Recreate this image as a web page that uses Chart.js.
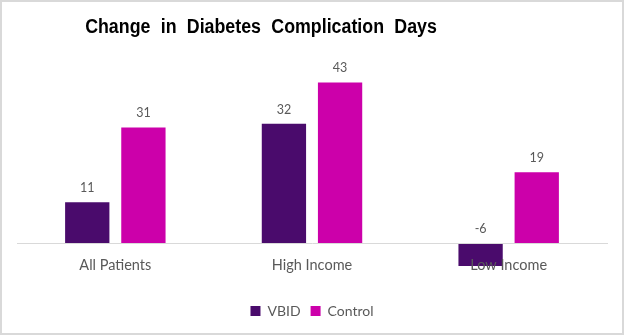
<!DOCTYPE html>
<html>
<head>
<meta charset="utf-8">
<script src="https://cdn.jsdelivr.net/npm/chart.js@4.4.1/dist/chart.umd.min.js"></script>
<style>
  html, body { margin: 0; padding: 0; background: #fff; }
  #wrap { position: relative; width: 624px; height: 335px; overflow: hidden; background: #fff; }
  #c { position: absolute; left: 0; top: 0; }
  #title {
    position: absolute; left: 61px; width: 400px; top: 14px; line-height: 24px;
    text-align: center; white-space: nowrap;
    font-family: "Liberation Sans", Arial, sans-serif; font-weight: bold; font-size: 20px;
    word-spacing: 6px; color: #000;
    transform: scaleX(0.89); transform-origin: center;
  }
  #border { position: absolute; left: 0; top: 0; width: 624px; height: 335px; box-sizing: border-box;
    border: 2px solid #d9d9d9; pointer-events: none; }
</style>
</head>
<body>
<div id="wrap">
  <canvas id="c" width="624" height="335"></canvas>
  <div id="title">Change in Diabetes Complication Days</div>
  <div id="border"></div>
</div>
<script>
const categories = ['All Patients', 'High Income', 'Low Income'];
const seriesNames = ['VBID', 'Control'];
const vbidValues = [11, 32, -6];
const controlValues = [31, 43, 19];

const TEXT = '#595959';
const FONT = 'Lato, "Open Sans", sans-serif';

const valueLabels = {
  id: 'valueLabels',
  afterDatasetsDraw(chart) {
    const ctx = chart.ctx;
    ctx.save();
    ctx.fillStyle = TEXT;
    ctx.font = '12.5px ' + FONT;
    ctx.textAlign = 'center';
    ctx.textBaseline = 'middle';
    chart.data.datasets.forEach((ds, i) => {
      const meta = chart.getDatasetMeta(i);
      meta.data.forEach((bar, j) => {
        const top = Math.min(bar.y, bar.base);
        ctx.fillText(String(ds.data[j]), bar.x, top - 14);
      });
    });
    ctx.restore();
  }
};

new Chart(document.getElementById('c'), {
  type: 'bar',
  data: {
    labels: categories,
    datasets: [
      { label: seriesNames[0], data: vbidValues, backgroundColor: '#4A0B6C', borderWidth: 0 },
      { label: seriesNames[1], data: controlValues, backgroundColor: '#CC00AA', borderWidth: 0 }
    ]
  },
  options: {
    responsive: false,
    animation: false,
    devicePixelRatio: 1,
    layout: { padding: { left: 17, right: 17, top: 60, bottom: 7 } },
    datasets: { bar: { categoryPercentage: 0.571, barPercentage: 0.789 } },
    scales: {
      x: {
        position: { y: 0 },
        grid: { display: false, drawTicks: false },
        border: { display: true, color: '#d9d9d9', width: 1, z: 1 },
        ticks: { color: TEXT, font: { family: FONT, size: 14.5 }, padding: 13, z: 2 }
      },
      y: {
        display: false,
        min: -13.5,
        max: 49
      }
    },
    plugins: {
      title: { display: false },
      tooltip: { enabled: false },
      legend: {
        position: 'bottom',
        labels: {
          color: TEXT,
          font: { family: FONT, size: 14 },
          boxWidth: 10,
          boxHeight: 10,
          padding: 10
        }
      }
    }
  },
  plugins: [valueLabels]
});
</script>
</body>
</html>
